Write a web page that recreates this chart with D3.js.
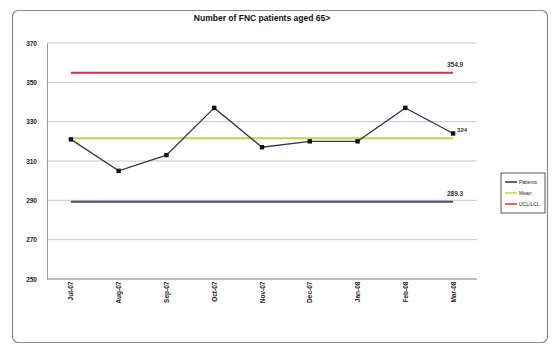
<!DOCTYPE html>
<html>
<head>
<meta charset="utf-8">
<script src="https://cdn.jsdelivr.net/npm/d3@7"></script>
<style>
  body { margin: 0; background: #fff; }
  svg { display: block; font-family: "Liberation Sans", Arial, sans-serif; }
</style>
</head>
<body>
<svg id="chart" width="555" height="347"></svg>
<script>
// Monthly counts and control limits
const months = ["Jul-07", "Aug-07", "Sep-07", "Oct-07", "Nov-07", "Dec-07", "Jan-08", "Feb-08", "Mar-08"];
const patients = [321, 305, 313, 337, 317, 320, 320, 337, 324];
const meanValue = 321.6;
const upperLimit = 354.9;
const lowerLimit = 289.3;
const yTicks = [250, 270, 290, 310, 330, 350, 370];
const legendLabels = ["Patients", "Mean", "UCL/LCL"];

const svg = d3.select("#chart");
const plot = { left: 47, right: 477, top: 43, bottom: 279 };

// Outer chart frame
svg.append("rect")
  .attr("x", 12.5).attr("y", 10.5).attr("width", 535).attr("height", 332)
  .attr("rx", 6).attr("fill", "#fff").attr("stroke", "#8a8a8a").attr("stroke-width", 1.2);

svg.append("text")
  .attr("x", 262).attr("y", 21)
  .attr("text-anchor", "middle").attr("font-size", 8.5).attr("font-weight", "bold")
  .attr("fill", "#111")
  .text("Number of FNC patients aged 65>");

const x = d3.scalePoint().domain(months).range([plot.left, plot.right]).padding(0.5);
const y = d3.scaleLinear().domain([250, 370]).range([plot.bottom, plot.top]);

// Horizontal gridlines
svg.append("g").selectAll("line").data(yTicks).join("line")
  .attr("x1", plot.left).attr("x2", plot.right)
  .attr("y1", d => y(d)).attr("y2", d => y(d))
  .attr("stroke", "#c8c8c8").attr("stroke-width", 1);

// Y axis
const yAxis = svg.append("g").attr("transform", `translate(${plot.left},0)`)
  .call(d3.axisLeft(y).tickValues(yTicks).tickSize(0).tickPadding(10).tickFormat(d3.format("d")));
yAxis.select(".domain").attr("stroke", "#999");
yAxis.selectAll("text").attr("font-size", 6.5).attr("font-weight", "bold").attr("fill", "#222");

// X axis with rotated month labels
const xAxis = svg.append("g").attr("transform", `translate(0,${plot.bottom})`)
  .call(d3.axisBottom(x).tickSize(0).tickPadding(4));
xAxis.select(".domain").attr("stroke", "#999").attr("d", `M${plot.left},0H${plot.right}`);
xAxis.selectAll("text")
  .attr("font-size", 6.5).attr("font-weight", "bold").attr("fill", "#222")
  .attr("transform", "rotate(-90)")
  .attr("text-anchor", "end")
  .attr("dx", "-0.4em").attr("dy", "-0.3em");

const x0 = x(months[0]);
const x1 = x(months[months.length - 1]);

// Control limits and mean
const refLines = [
  { v: upperLimit, color: "#c8384a", label: upperLimit.toFixed(1) },
  { v: meanValue, color: "#c3d33c", label: null },
  { v: lowerLimit, color: "#5b4866", label: lowerLimit.toFixed(1) }
];
svg.append("g").selectAll("line").data(refLines).join("line")
  .attr("x1", x0).attr("x2", x1)
  .attr("y1", d => y(d.v)).attr("y2", d => y(d.v))
  .attr("stroke", d => d.color).attr("stroke-width", 2);
svg.append("g").selectAll("text").data(refLines.filter(d => d.label)).join("text")
  .attr("x", x1 + 2).attr("y", d => y(d.v) - 6)
  .attr("text-anchor", "middle").attr("font-size", 6.5).attr("font-weight", "bold").attr("fill", "#333")
  .text(d => d.label);

// Monthly series
const line = d3.line().x((d, i) => x(months[i])).y(d => y(d));
svg.append("path").datum(patients)
  .attr("d", line).attr("fill", "none").attr("stroke", "#2e3560").attr("stroke-width", 1.3);
svg.append("g").selectAll("rect").data(patients).join("rect")
  .attr("x", (d, i) => x(months[i]) - 2.2).attr("y", d => y(d) - 2.2)
  .attr("width", 4.4).attr("height", 4.4).attr("fill", "#111");

// Value of the latest month
svg.append("text")
  .attr("x", x1 + 4).attr("y", y(patients[patients.length - 1]) - 1)
  .attr("font-size", 6).attr("font-weight", "bold").attr("fill", "#333")
  .text(patients[patients.length - 1]);

// Legend
const legend = svg.append("g").attr("transform", "translate(501,173)");
legend.append("rect").attr("width", 44).attr("height", 40)
  .attr("fill", "#fff").attr("stroke", "#555").attr("stroke-width", 1);
const legendColors = ["#2e3560", "#c3d33c", "#c8384a"];
legendLabels.forEach((lab, i) => {
  const g = legend.append("g").attr("transform", `translate(4,${9 + i * 11})`);
  g.append("line").attr("x1", 0).attr("x2", 12).attr("stroke", legendColors[i]).attr("stroke-width", 1.5);
  g.append("text").attr("x", 14).attr("y", 2).attr("font-size", 5).attr("fill", "#222").text(lab);
});
</script>
</body>
</html>
